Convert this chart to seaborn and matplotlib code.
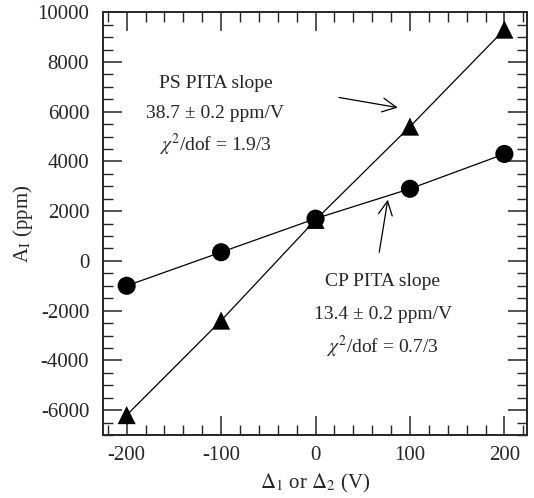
"""
PITA slope plot: A_I versus Delta voltage.
"""

import matplotlib
matplotlib.use("Agg")
import matplotlib.pyplot as plt
from matplotlib.ticker import MultipleLocator
import seaborn as sns
import pandas as pd

# data
delta_v = [-200, -100, 0, 100, 200]
cp_asym = [-1000, 350, 1700, 2900, 4300]     # circles
ps_asym = [-6200, -2400, 1650, 5400, 9300]   # triangles

ps_text = ["PS PITA slope", "38.7 ± 0.2 ppm/V", r"$\chi^2$/dof = 1.9/3"]
cp_text = ["CP PITA slope", "13.4 ± 0.2 ppm/V", r"$\chi^2$/dof = 0.7/3"]

sns.set_style("ticks")
plt.rcParams.update(
    {
        "font.family": ["Liberation Serif", "DejaVu Serif"],
        "mathtext.fontset": "stix",
        "axes.unicode_minus": False,
        "font.size": 15,
        "axes.linewidth": 1.4,
        "xtick.direction": "in",
        "ytick.direction": "in",
        "xtick.top": True,
        "ytick.right": True,
    }
)

df = pd.DataFrame(
    {
        "delta": delta_v * 2,
        "A": cp_asym + ps_asym,
        "series": ["CP"] * 5 + ["PS"] * 5,
    }
)

fig = plt.figure(figsize=(5.34, 4.98), dpi=100)
ax = fig.add_axes([0.193, 0.1265, 0.794, 0.849])

sns.lineplot(
    data=df, x="delta", y="A", hue="series", palette=["black", "black"],
    linewidth=0.9, legend=False, ax=ax, sort=True,
)
sns.scatterplot(
    data=df, x="delta", y="A", style="series", markers={"CP": "o", "PS": "^"},
    color="black", s=170, edgecolor="none", legend=False, ax=ax, zorder=3,
)

ax.set_xlim(-225, 224)
ax.set_ylim(-7000, 10000)
ax.xaxis.set_major_locator(MultipleLocator(100))
ax.xaxis.set_minor_locator(MultipleLocator(20))
ax.yaxis.set_major_locator(MultipleLocator(2000))
ax.yaxis.set_minor_locator(MultipleLocator(500))
ax.tick_params(which="major", length=14, width=1.1, top=True, right=True, labelsize=15)
ax.tick_params(which="minor", length=7, width=1.0, top=True, right=True)
ax.tick_params(axis="x", pad=8)
ax.tick_params(axis="y", pad=10)

ax.set_xlabel(r"$\Delta_1$ or $\Delta_2$ (V)", fontsize=15, labelpad=5)
ax.set_ylabel(r"A$_\mathrm{I}$ (ppm)", fontsize=15, labelpad=2)

# annotations
for y, s in zip([7150, 5945, 4660], ps_text):
    ax.text(-106, y, s, ha="center", va="center", fontsize=14)
for y, s in zip([-845, -2170, -3455], cp_text):
    ax.text(71, y, s, ha="center", va="center", fontsize=14)

arrow = dict(arrowstyle="->", color="black", lw=0.9, mutation_scale=25)
ax.annotate("", xy=(90, 6145), xytext=(22, 6590), arrowprops=arrow)
ax.annotate("", xy=(77, 2570), xytext=(67, 240), arrowprops=arrow)

fig.savefig("out.png", dpi=100)
